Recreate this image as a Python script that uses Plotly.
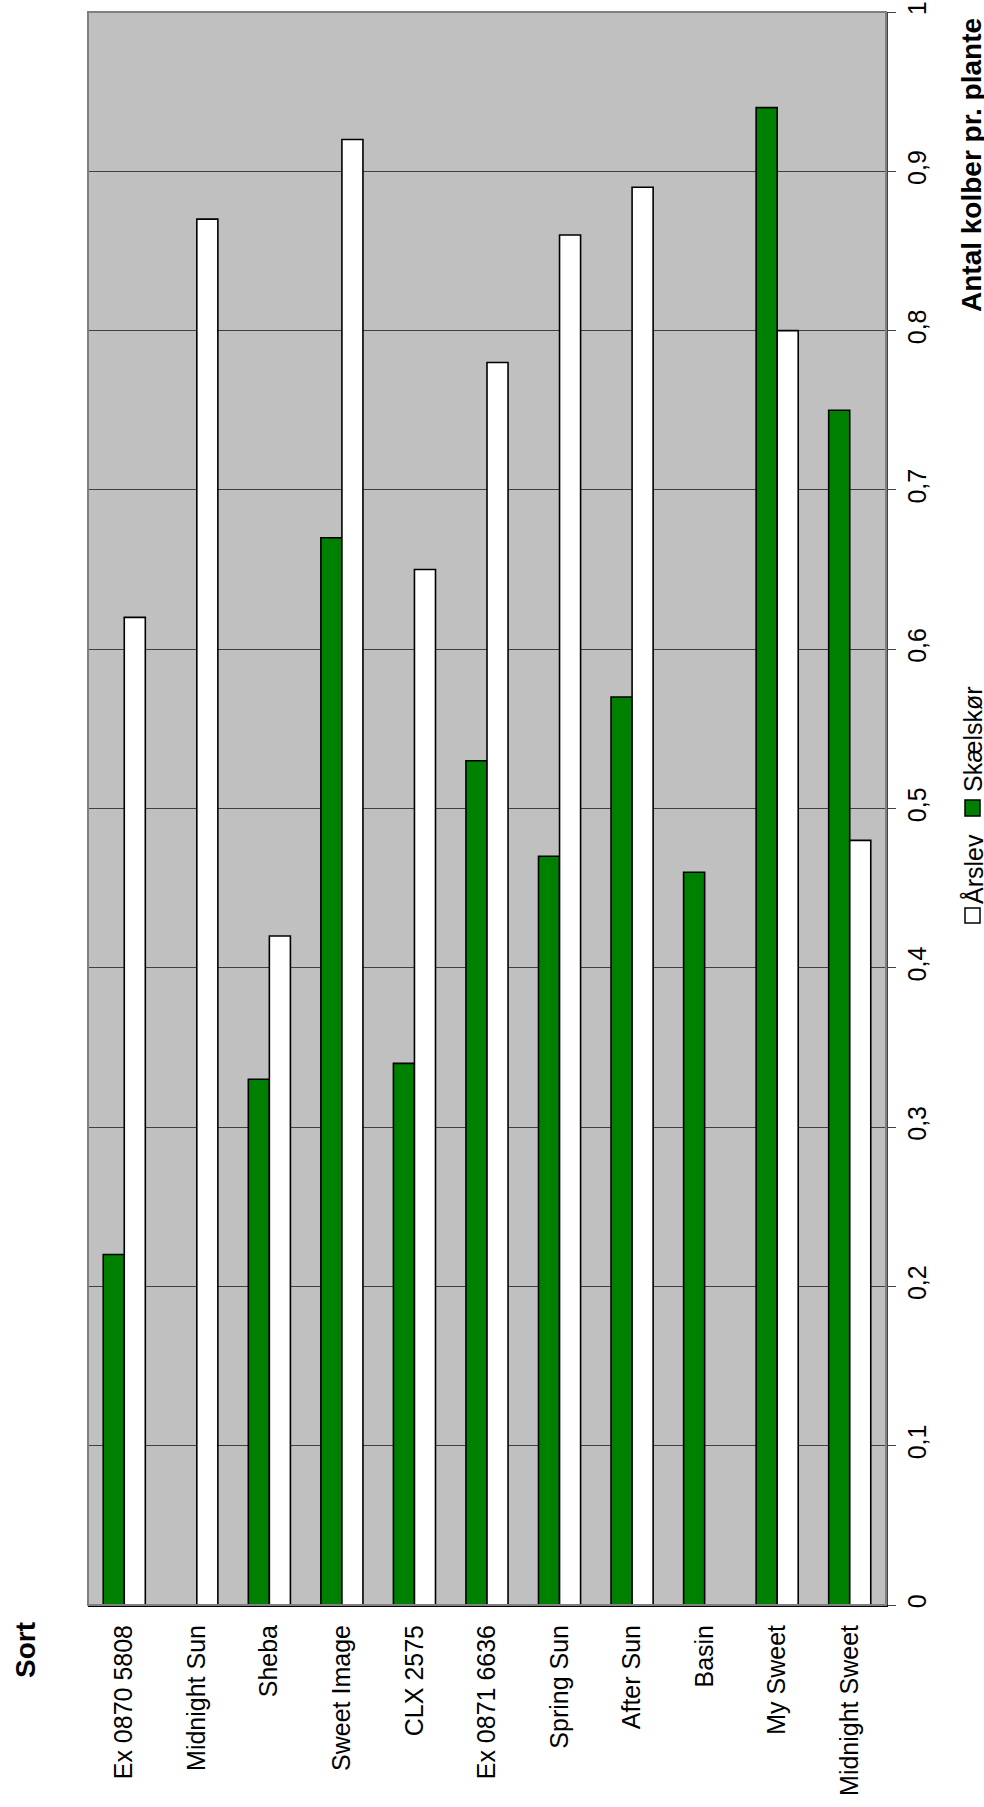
import plotly.graph_objects as go

categories = ["Ex 0870 5808", "Midnight Sun", "Sheba", "Sweet Image", "CLX 2575",
              "Ex 0871 6636", "Spring Sun", "After Sun", "Basin", "My Sweet", "Midnight Sweet"]
skaelskoer = [0.22, None, 0.33, 0.67, 0.34, 0.53, 0.47, 0.57, 0.46, 0.94, 0.75]
aarslev = [0.62, 0.87, 0.42, 0.92, 0.65, 0.78, 0.86, 0.89, None, 0.80, 0.48]
y_ticks = [0, 0.1, 0.2, 0.3, 0.4, 0.5, 0.6, 0.7, 0.8, 0.9, 1]

FONT = "Liberation Sans, Arial, sans-serif"
W, H = 984, 1807
# plot area in page pixels: x 88..886, y 12..1605
L, R, T, B = 88, W - 886, 12, H - 1605
PW, PH = W - L - R, H - T - B

def px(x):
    return (x - L) / PW

def py(y):
    return (H - B - y) / PH

fig = go.Figure()
fig.add_trace(go.Bar(x=categories, y=skaelskoer, name="Skælskør",
                     marker=dict(color="#008000", line=dict(color="black", width=1.6))))
fig.add_trace(go.Bar(x=categories, y=aarslev, name="Årslev",
                     marker=dict(color="#FFFFFF", line=dict(color="black", width=1.6))))

fig.update_layout(
    width=W, height=H, autosize=False,
    margin=dict(l=L, r=R, t=T, b=B, pad=0, autoexpand=False),
    paper_bgcolor="white", plot_bgcolor="#C0C0C0",
    barmode="group", bargap=0.42, bargroupgap=0,
    showlegend=False,
    separators=", ",
    font=dict(family=FONT, size=25, color="black"),
)
fig.update_xaxes(
    type="category", tickangle=-90, ticks="", showgrid=False,
    showline=True, linecolor="black", linewidth=2,
    tickfont=dict(size=25), ticklabelstandoff=8, automargin=False,
)
fig.update_yaxes(
    range=[0, 1], tickvals=y_ticks, side="right", tickangle=-90,
    ticks="outside", ticklen=8, tickcolor="#404040", tickwidth=1,
    showgrid=True, gridcolor="#404040", gridwidth=1,
    showline=True, linecolor="#404040", linewidth=1.5,
    tickfont=dict(size=25), zeroline=False, automargin=False,
    ticklabeloverflow="allow",
)

# plot frame (left/top edges)
fig.add_shape(type="rect", xref="paper", yref="paper", x0=0, x1=1, y0=0, y1=1,
              line=dict(color="#808080", width=2), layer="above")

# axis titles
fig.add_annotation(text="<b>Antal kolber pr. plante</b>", xref="paper", yref="paper",
                   x=px(971), y=py(165), xanchor="center", yanchor="middle",
                   textangle=-90, showarrow=False, font=dict(size=28))
fig.add_annotation(text="<b>Sort</b>", xref="paper", yref="paper",
                   x=px(25), y=py(1650), xanchor="center", yanchor="middle",
                   textangle=-90, showarrow=False, font=dict(size=28))

# legend (rotated)
fig.add_shape(type="rect", xref="paper", yref="paper",
              x0=px(965), x1=px(980), y0=py(923), y1=py(908),
              fillcolor="white", line=dict(color="black", width=1.5))
fig.add_annotation(text="Årslev", xref="paper", yref="paper",
                   x=px(973), y=py(869), xanchor="center", yanchor="middle",
                   textangle=-90, showarrow=False, font=dict(size=25))
fig.add_shape(type="rect", xref="paper", yref="paper",
              x0=px(965), x1=px(980), y0=py(816), y1=py(800),
              fillcolor="#008000", line=dict(color="black", width=1.5))
fig.add_annotation(text="Skælskør", xref="paper", yref="paper",
                   x=px(973), y=py(739), xanchor="center", yanchor="middle",
                   textangle=-90, showarrow=False, font=dict(size=25))

fig.write_html("out.html", config={"displayModeBar": False},
               post_script="document.body.style.margin='0';")
